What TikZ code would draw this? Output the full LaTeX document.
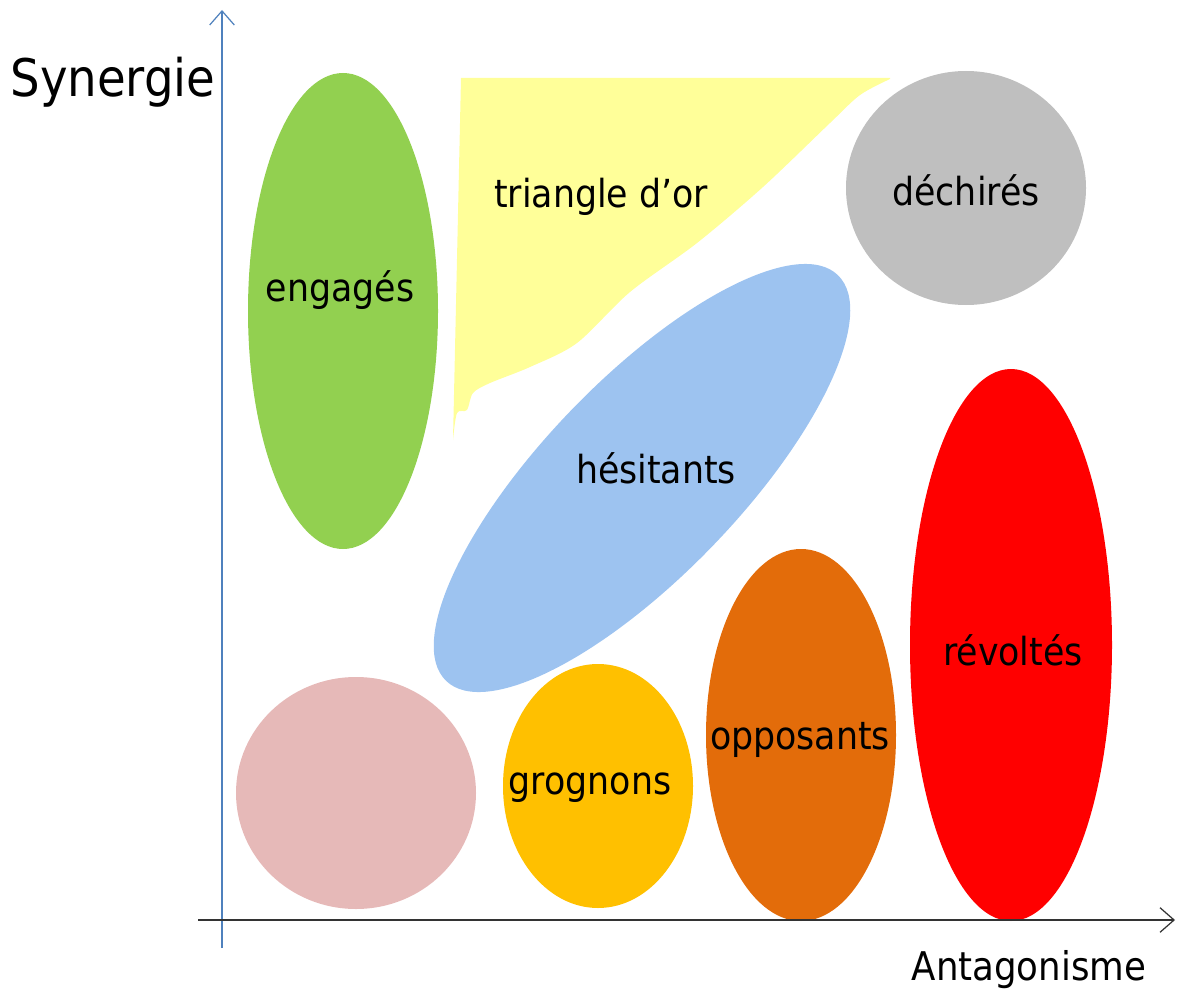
\documentclass[tikz,border=0pt]{standalone}
\usepackage{fontspec}
\setmainfont{DejaVu Sans Condensed}
\usetikzlibrary{arrows.meta}
\definecolor{vert}{RGB}{146,208,80}
\definecolor{jaune}{RGB}{255,255,153}
\definecolor{gris}{RGB}{191,191,191}
\definecolor{bleu}{RGB}{157,195,240}
\definecolor{rose}{RGB}{230,185,184}
\definecolor{orjaune}{RGB}{255,192,0}
\definecolor{orange}{RGB}{227,108,10}
\definecolor{axe}{RGB}{79,129,189}
\begin{document}
\begin{tikzpicture}[x=0.02cm,y=-0.02cm,
  lbl/.style={font=\fontsize{22}{26}\selectfont},
  fleche/.style={-{Straight Barb[length=8pt,width=14pt]},line width=0.7pt}]
\useasboundingbox (0,0) rectangle (1180,997);
% les groupes
\fill[jaune] (461,78) -- (890,78) -- plot[smooth,tension=0.5] coordinates {(890,79) (860,95) (830,123) (763,187) (697,243) (630,292) (577,343) (530,367) (490,383) (473,393) (467,410) (457,413) (453,440)} -- cycle;
\fill[vert] (343,311) ellipse (95 and 238);
\fill[gris] (966,188) ellipse (120 and 117);
\fill[bleu,rotate around={46:(642,478)}] (642,478) ellipse (282 and 98);
\fill[rose] (356,793) ellipse (120 and 116);
\fill[orjaune] (598,786) ellipse (95 and 122);
\fill[orange] (801,735) ellipse (95 and 186);
\fill[red] (1011,645) ellipse (101 and 276);
% les noms
\node[lbl] (engages) at (340,290) {engagés};
\node[lbl] (or) at (601,197) {triangle d’or};
\node[lbl] (dechires) at (966,190) {déchirés};
\node[lbl] (hesitants) at (656,468) {hésitants};
\node[lbl] (revoltes) at (1013,650) {révoltés};
\node[lbl] (opposants) at (800,740) {opposants};
\node[lbl] (grognons) at (590,788) {grognons};
% les axes
\coordinate (o1) at (222,948);
\coordinate (y1) at (222,10);
\coordinate (o2) at (198,920);
\coordinate (x1) at (1175,920);
\draw[fleche,axe] (o1) -- (y1);
\draw[fleche,black!80] (o2) -- (x1);
\node[font=\fontsize{29.5}{34}\selectfont] (syn) at (113,82) {Synergie};
\node[font=\fontsize{22.5}{27}\selectfont] (ant) at (1029,970) {Antagonisme};
\end{tikzpicture}
\end{document}
